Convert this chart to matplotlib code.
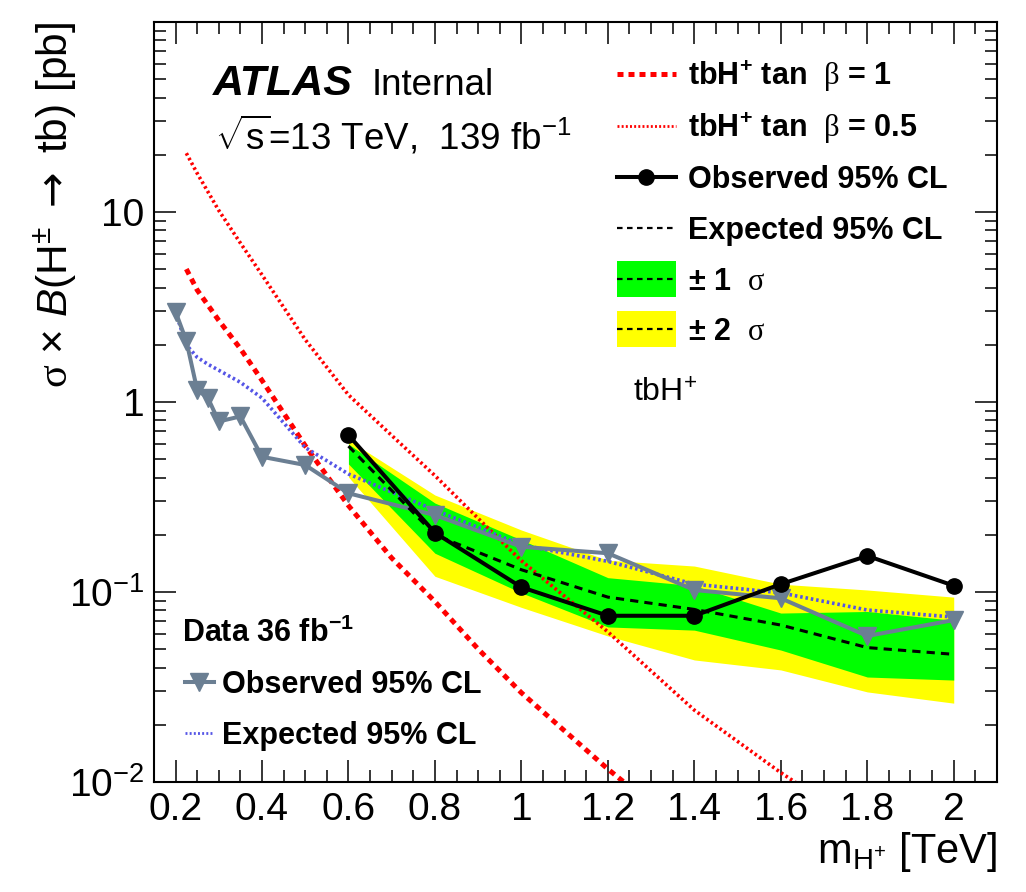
import matplotlib
matplotlib.use('Agg')
from matplotlib import pyplot as plt
from matplotlib.ticker import MultipleLocator, LogLocator, FixedLocator, FixedFormatter, NullFormatter
from matplotlib.patches import Rectangle
from matplotlib.lines import Line2D

plt.rcParams['font.family'] = ['Liberation Sans', 'DejaVu Sans']
plt.rcParams['mathtext.fontset'] = 'custom'
plt.rcParams['mathtext.rm'] = 'Liberation Sans'
plt.rcParams['mathtext.it'] = 'Liberation Sans:italic'
plt.rcParams['mathtext.bf'] = 'Liberation Sans:bold'
plt.rcParams['mathtext.sf'] = 'Liberation Serif'
plt.rcParams['mathtext.tt'] = 'DejaVu Sans'

# 139 fb-1 limits [pb]
mass = [0.6, 0.8, 1.0, 1.2, 1.4, 1.6, 1.8, 2.0]
obs = [0.67, 0.205, 0.106, 0.075, 0.075, 0.110, 0.155, 0.108]
exp = [0.586, 0.200, 0.131, 0.094, 0.081, 0.067, 0.051, 0.047]
exp_p1 = [0.601, 0.294, 0.188, 0.119, 0.108, 0.0775, 0.079, 0.071]
exp_m1 = [0.472, 0.160, 0.099, 0.0655, 0.063, 0.0495, 0.0357, 0.0344]
exp_p2 = [0.631, 0.324, 0.212, 0.147, 0.137, 0.110, 0.1025, 0.094]
exp_m2 = [0.403, 0.121, 0.083, 0.0587, 0.0439, 0.0389, 0.0298, 0.026]

# 36 fb-1 limits [pb]
mass36 = [0.2, 0.225, 0.25, 0.275, 0.3, 0.35, 0.4, 0.5, 0.6, 0.8, 1.0, 1.2, 1.4, 1.6, 1.8, 2.0]
obs36 = [2.99, 2.10, 1.16, 1.05, 0.79, 0.84, 0.515, 0.466, 0.331, 0.254, 0.173, 0.160, 0.1025, 0.0927, 0.0587, 0.0712]
exp36 = [2.97, 2.00, 1.72, 1.58, 1.47, 1.27, 1.05, 0.576, 0.418, 0.270, 0.177, 0.145, 0.110, 0.099, 0.0804, 0.0738]

# theory tbH+ cross sections [pb]
mass_tb1 = [0.225, 0.25, 0.3, 0.35, 0.4, 0.5, 0.6, 0.7, 0.8, 0.9, 1.0, 1.2, 1.4]
xs_tb1 = [5.01, 3.89, 2.69, 1.91, 1.30, 0.589, 0.285, 0.151, 0.0891, 0.0501, 0.0295, 0.0117, 0.0050]
mass_tb05 = [0.225, 0.25, 0.3, 0.35, 0.4, 0.5, 0.6, 0.7, 0.8, 0.9, 1.0, 1.2, 1.4, 1.6, 1.8]
xs_tb05 = [20.4, 16.0, 10.2, 6.87, 4.67, 2.13, 1.09, 0.667, 0.41, 0.244, 0.146, 0.0617, 0.0239, 0.0112, 0.0056]

GREY = '#6b7f93'
BLUE = '#5555e6'
DOT_RED = dict(color='#ff0000', lw=2.6, ls=(0, (0.7, 0.8)))
DASH_RED = dict(color='#ff0000', lw=3.6, ls=(0, (1.2, 1.0)))
DOT_BLUE = dict(color=BLUE, lw=2.6, ls=(0, (0.7, 0.8)))

fig = plt.figure(figsize=(10.26, 8.92), dpi=100)
ax = fig.add_axes([0.150, 0.1233, 0.8217, 0.852])

ax.fill_between(mass, exp_m2, exp_p2, color='#ffff00', lw=0, zorder=1)
ax.fill_between(mass, exp_m1, exp_p1, color='#00ff00', lw=0, zorder=1.5)
ax.plot(mass_tb1, xs_tb1, zorder=2, **DASH_RED)
ax.plot(mass_tb05, xs_tb05, zorder=2, **DOT_RED)
ax.plot(mass36, exp36, zorder=3, **DOT_BLUE)
ax.plot(mass36, obs36, color=GREY, lw=2.9, marker='v', markersize=13, zorder=4)
ax.plot(mass, exp, color='black', lw=2.2, ls=(0, (2.7, 2.0)), zorder=5)
ax.plot(mass, obs, color='black', lw=2.9, marker='o', markersize=11, zorder=6)

ax.set_yscale('log')
ax.set_xlim(0.15, 2.1)
ax.set_ylim(0.01, 100)

xt = [0.2, 0.4, 0.6, 0.8, 1.0, 1.2, 1.4, 1.6, 1.8, 2.0]
ax.set_xticks(xt, ['0.2', '0.4', '0.6', '0.8', '1', '1.2', '1.4', '1.6', '1.8', '2'])
ax.xaxis.set_minor_locator(MultipleLocator(0.05))
ax.yaxis.set_major_locator(FixedLocator([0.01, 0.1, 1, 10, 100]))
ax.yaxis.set_major_formatter(FixedFormatter([r'$10^{-2}$', r'$10^{-1}$', '1', '10', '']))
ax.yaxis.set_minor_locator(LogLocator(base=10, subs=range(2, 10), numticks=20))
ax.yaxis.set_minor_formatter(NullFormatter())

ax.tick_params(which='both', direction='in', top=True, right=True, width=1.1)
ax.tick_params(which='major', length=16, labelsize=28, pad=7)
ax.tick_params(which='minor', length=8.5)
for s in ax.spines.values():
    s.set_linewidth(1.5)

ax.set_ylabel(r'$\mathsf{\sigma}$ × $\mathit{B}$(H$^{\pm}$ $\mathtt{\rightarrow}$ tb) [pb]',
              fontsize=30.5, loc='top')
ax.yaxis.set_label_coords(-0.089, 1.0)
ax.set_xlabel(r'm$_{\mathrm{H}^{+}}$ [TeV]', fontsize=30, loc='right')
ax.xaxis.set_label_coords(1.0, -0.063)

# labels
ax.text(0.070, 0.904, 'ATLAS', transform=ax.transAxes, fontsize=31,
        fontweight='bold', fontstyle='italic', va='baseline')
ax.text(0.258, 0.904, 'Internal', transform=ax.transAxes, fontsize=26.5, va='baseline')
ax.text(0.072, 0.832, r'$\sqrt{\mathrm{s}}$=13 TeV,  139 fb$^{-1}$', transform=ax.transAxes,
        fontsize=26.5, va='baseline')
ax.text(0.568, 0.500, r'tbH$^{+}$', transform=ax.transAxes, fontsize=23, va='baseline')

# legend (top right)
tr = ax.transAxes
hx0, hx1, tx = 0.549, 0.619, 0.633
rows = [0.9316, 0.863, 0.796, 0.729, 0.662, 0.596]
off = 11 / 760
labels = [r'tbH$^{\mathbf{+}}$ tan  $\mathsf{\beta}$ = 1',
          r'tbH$^{\mathbf{+}}$ tan  $\mathsf{\beta}$ = 0.5',
          'Observed 95% CL', 'Expected 95% CL',
          r'± 1  $\mathsf{\sigma}$', r'± 2  $\mathsf{\sigma}$']
bh = 36 / 760
ax.add_patch(Rectangle((hx0, rows[4] - bh / 2), hx1 - hx0, bh, transform=tr,
                       color='#00ff00', lw=0, clip_on=False))
ax.add_patch(Rectangle((hx0, rows[5] - bh / 2), hx1 - hx0, bh, transform=tr,
                       color='#ffff00', lw=0, clip_on=False))
dash_blk = dict(color='black', lw=1.6, ls=(0, (2.5, 2.0)))
styles = [DASH_RED, dict(DOT_RED, lw=2.0), dict(color='black', lw=2.9),
          dash_blk, dash_blk, dash_blk]
for y, lab, st in zip(rows, labels, styles):
    ax.add_line(Line2D([hx0, hx1], [y, y], transform=tr, clip_on=False, **st))
    ax.text(tx, y - off, lab, transform=tr, fontsize=22, fontweight='bold', va='baseline')
ax.add_line(Line2D([(hx0 + hx1) / 2], [rows[2]], transform=tr, color='black',
                   marker='o', markersize=11, ls='none'))

# legend (bottom left, 36 fb-1)
ax.text(0.033, 0.184, r'Data 36 fb$^{\mathbf{-1}}$', transform=tr, fontsize=22,
        fontweight='bold', va='baseline')
ax.add_line(Line2D([0.037, 0.071], [0.1316, 0.1316], transform=tr, color=GREY, lw=2.9))
ax.add_line(Line2D([0.054], [0.1316], transform=tr, color=GREY, marker='v',
                   markersize=13, ls='none'))
ax.add_line(Line2D([0.037, 0.071], [0.0645, 0.0645], transform=tr, **dict(DOT_BLUE, lw=2.0)))
ax.text(0.081, 0.1316 - off, 'Observed 95% CL', transform=tr, fontsize=22,
        fontweight='bold', va='baseline')
ax.text(0.081, 0.0645 - off, 'Expected 95% CL', transform=tr, fontsize=22,
        fontweight='bold', va='baseline')

fig.savefig('out.png', dpi=100)
